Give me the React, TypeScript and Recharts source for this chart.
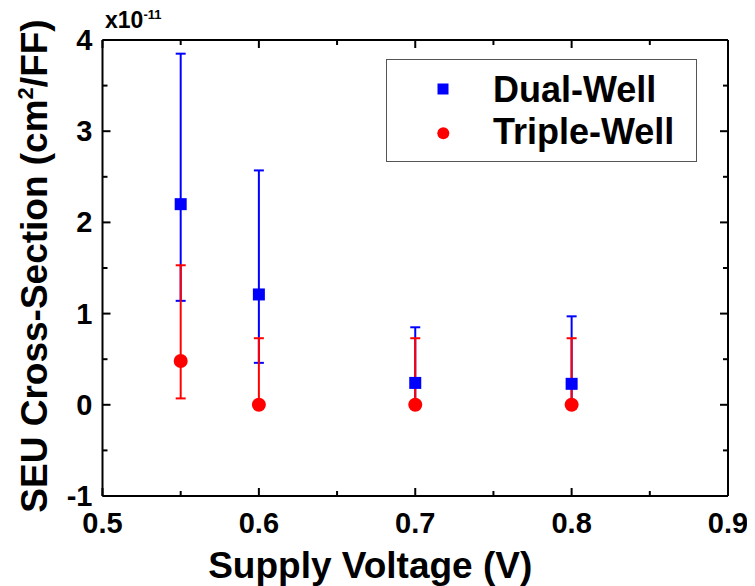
import { ScatterChart, Scatter, XAxis, YAxis, ErrorBar } from 'recharts'

const voltages = [0.55, 0.6, 0.7, 0.8]
const dualWell = [2.2, 1.21, 0.24, 0.23]
const dualWellUpper = [3.85, 2.57, 0.85, 0.97]
const dualWellLower = [1.14, 0.46, 0.0, 0.0]
const tripleWell = [0.48, 0, 0, 0]
const tripleWellUpper = [1.53, 0.73, 0.73, 0.73]
const tripleWellLower = [0.07, 0, 0, 0]

const xMajorTicks = [0.5, 0.6, 0.7, 0.8, 0.9]
const xMinorTicks = [0.55, 0.65, 0.75, 0.85]
const yMajorTicks = [-1, 0, 1, 2, 3, 4]
const yMinorTicks = [-0.5, 0.5, 1.5, 2.5, 3.5]

const FONT = "Arial, 'Liberation Sans', sans-serif"
const BLUE = '#0000ff'
const RED = '#ff0000'

const toRows = (vals: number[], lo: number[], hi: number[]) =>
  voltages.map((v, i) => ({
    x: v,
    y: vals[i],
    err: [vals[i] - lo[i], hi[i] - vals[i]]
  }))

const dualData = toRows(dualWell, dualWellLower, dualWellUpper)
const tripleData = toRows(tripleWell, tripleWellLower, tripleWellUpper)

const xAllTicks = [...xMajorTicks, ...xMinorTicks].sort((a, b) => a - b)
const yAllTicks = [...yMajorTicks, ...yMinorTicks].sort((a, b) => a - b)

const MAJOR = 8
const MINOR = 5
const X_MARGIN = 16
const Y_MARGIN = 10

const SquareDot = (p: any) => (
  <rect x={p.cx - 6} y={p.cy - 6} width={12} height={12} fill={BLUE} />
)
const CircleDot = (p: any) => <circle cx={p.cx} cy={p.cy} r={7} fill={RED} />
const NoDot = () => <g />

const axisLine = { stroke: '#000', strokeWidth: 2 }
const labelStyle = { fontFamily: FONT, fontSize: 29, fontWeight: 'bold' as const, fill: '#000' }

// ticks point into the plot, so each tick draws its own mark
const BottomTick = (p: any) => {
  const v = p.payload.value
  const major = xMajorTicks.includes(v)
  const y0 = p.y - X_MARGIN
  return (
    <g>
      <line x1={p.x} x2={p.x} y1={y0} y2={y0 - (major ? MAJOR : MINOR)} stroke="#000" strokeWidth={2} />
      {major && (
        <text x={p.x} y={p.y + 21} textAnchor="middle" {...labelStyle}>
          {v}
        </text>
      )}
    </g>
  )
}

const LeftTick = (p: any) => {
  const v = p.payload.value
  const major = yMajorTicks.includes(v)
  const x0 = p.x + Y_MARGIN
  return (
    <g>
      <line x1={x0} x2={x0 + (major ? MAJOR : MINOR)} y1={p.y} y2={p.y} stroke="#000" strokeWidth={2} />
      {major && (
        <text x={p.x} y={p.y + 10} textAnchor="end" {...labelStyle}>
          {v}
        </text>
      )}
    </g>
  )
}

const TopTick = (p: any) => {
  const major = xMajorTicks.includes(p.payload.value)
  return (
    <line x1={p.x} x2={p.x} y1={p.y} y2={p.y + (major ? MAJOR : MINOR)} stroke="#000" strokeWidth={2} />
  )
}

const RightTick = (p: any) => {
  const major = yMajorTicks.includes(p.payload.value)
  return (
    <line x1={p.x} x2={p.x - (major ? MAJOR : MINOR)} y1={p.y} y2={p.y} stroke="#000" strokeWidth={2} />
  )
}

export default function App() {
  return (
    <div style={{ position: 'relative', width: 739, height: 578 }}>
      <ScatterChart
        width={739}
        height={578}
        margin={{ top: 31, right: 18, left: 34.5, bottom: 50 }}
      >
        <XAxis
          xAxisId="main"
          dataKey="x"
          type="number"
          domain={[0.5, 0.9]}
          allowDataOverflow
          ticks={xAllTicks}
          interval={0}
          height={40}
          tickLine={false}
          tickSize={0}
          tickMargin={X_MARGIN}
          axisLine={axisLine}
          tick={BottomTick}
          label={(props: any) => {
            const vb = props.viewBox
            return (
              <text
                x={vb.x + vb.width / 2 - 45}
                y={vb.y + 82}
                textAnchor="middle"
                fontFamily={FONT}
                fontSize={37}
                fontWeight="bold"
                fill="#000"
              >
                Supply Voltage (V)
              </text>
            )
          }}
        />
        <XAxis
          xAxisId="top"
          dataKey="x"
          type="number"
          orientation="top"
          domain={[0.5, 0.9]}
          allowDataOverflow
          ticks={xAllTicks}
          interval={0}
          height={1}
          tickLine={false}
          tickSize={0}
          tickMargin={0}
          axisLine={axisLine}
          tick={TopTick}
        />
        <YAxis
          yAxisId="main"
          dataKey="y"
          type="number"
          domain={[-1, 4]}
          allowDataOverflow
          ticks={yAllTicks}
          interval={0}
          width={60}
          tickLine={false}
          tickSize={0}
          tickMargin={Y_MARGIN}
          axisLine={axisLine}
          tick={LeftTick}
          label={(props: any) => {
            const vb = props.viewBox
            const cx = vb.x + 4.5
            const cy = vb.y + vb.height / 2 - 2
            return (
              <text
                x={cx}
                y={cy}
                transform={`rotate(-90, ${cx}, ${cy})`}
                textAnchor="middle"
                fontFamily={FONT}
                fontSize={37}
                fontWeight="bold"
                fill="#000"
              >
                SEU Cross-Section (cm
                <tspan fontSize={22} dy={-14}>2</tspan>
                <tspan dy={14}>/FF)</tspan>
              </text>
            )
          }}
        />
        <YAxis
          yAxisId="right"
          dataKey="y"
          type="number"
          orientation="right"
          domain={[-1, 4]}
          allowDataOverflow
          ticks={yAllTicks}
          interval={0}
          width={1}
          tickLine={false}
          tickSize={0}
          tickMargin={0}
          axisLine={axisLine}
          tick={RightTick}
        />
        {/* carrier so the top and right frame axes get a scale */}
        <Scatter
          data={dualData}
          xAxisId="top"
          yAxisId="right"
          shape={NoDot}
          legendType="none"
          isAnimationActive={false}
        />
        <Scatter
          name="Dual-Well"
          data={dualData}
          xAxisId="main"
          yAxisId="main"
          fill={BLUE}
          shape={SquareDot}
          isAnimationActive={false}
        >
          <ErrorBar dataKey="err" direction="y" width={5} stroke={BLUE} strokeWidth={2} />
        </Scatter>
        <Scatter
          name="Triple-Well"
          data={tripleData}
          xAxisId="main"
          yAxisId="main"
          fill={RED}
          shape={CircleDot}
          isAnimationActive={false}
        >
          <ErrorBar dataKey="err" direction="y" width={5} stroke={RED} strokeWidth={2} />
        </Scatter>
      </ScatterChart>

      <svg
        width={739}
        height={578}
        style={{ position: 'absolute', left: 0, top: 0, pointerEvents: 'none' }}
      >
        <text x={97} y={20} fontFamily={FONT} fontSize={23} fontWeight="bold" fill="#000">
          x10
          <tspan fontSize={13} dy={-9.5}>-11</tspan>
        </text>
        <g transform="translate(378, 51)">
          <rect x={0.5} y={0.5} width={310} height={102} fill="#fff" stroke="#555" strokeWidth={1} />
          <rect x={51.5} y={24.5} width={11} height={11} fill={BLUE} />
          <circle cx={57.3} cy={74.3} r={6} fill={RED} />
          <text x={107} y={42.7} fontFamily={FONT} fontSize={36} fontWeight="bold" fill="#000">
            Dual-Well
          </text>
          <text x={107} y={85} fontFamily={FONT} fontSize={36} fontWeight="bold" fill="#000">
            Triple-Well
          </text>
        </g>
      </svg>
    </div>
  )
}
